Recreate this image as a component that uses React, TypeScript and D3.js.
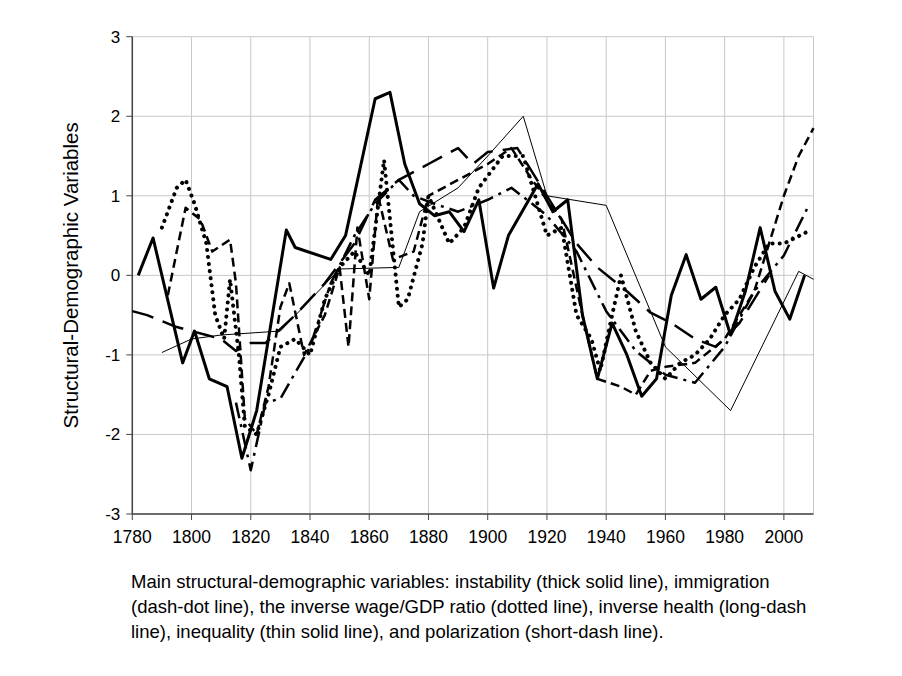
import * as d3 from 'd3';

type Pt = [number, number];

const instability: Pt[] = [[1782,0],[1787,0.47],[1797,-1.1],[1801,-0.7],[1806,-1.3],[1812,-1.4],[1817,-2.3],[1822,-1.7],[1832,0.57],[1835,0.35],[1847,0.2],[1852,0.5],[1862,2.22],[1867,2.3],[1872,1.4],[1877,0.9],[1882,0.75],[1887,0.8],[1892,0.55],[1897,0.95],[1902,-0.16],[1907,0.5],[1917,1.15],[1922,0.8],[1927,0.95],[1932,-0.5],[1937,-1.3],[1942,-0.6],[1947,-1.0],[1952,-1.52],[1957,-1.3],[1962,-0.25],[1967,0.26],[1972,-0.3],[1977,-0.15],[1982,-0.75],[1987,-0.2],[1992,0.6],[1997,-0.2],[2002,-0.55],[2007,0.0]];
const immigration: Pt[] = [[1815,-1.6],[1820,-2.45],[1825,-1.6],[1830,-1.55],[1840,-0.9],[1847,-0.1],[1855,0.5],[1862,0.9],[1870,1.2],[1875,1.0],[1882,0.9],[1890,0.8],[1900,0.95],[1908,1.1],[1915,0.9],[1920,0.75],[1930,0.3],[1940,-0.45],[1950,-0.95],[1960,-1.25],[1970,-1.35],[1980,-0.9],[1990,-0.2],[2000,0.25],[2008,0.85]];
const inverseWage: Pt[] = [[1790,0.6],[1795,1.1],[1798,1.2],[1801,0.9],[1805,0.4],[1808,-0.5],[1811,-0.8],[1813,-0.05],[1816,-1.0],[1818,-1.9],[1822,-2.0],[1826,-1.5],[1830,-0.9],[1835,-0.8],[1840,-1.0],[1845,-0.3],[1850,0.1],[1855,0.3],[1860,0.0],[1865,1.45],[1870,-0.4],[1873,-0.3],[1878,0.4],[1880,1.0],[1887,0.4],[1892,0.6],[1897,1.1],[1905,1.5],[1912,1.5],[1920,0.5],[1925,0.6],[1930,-0.5],[1935,-0.8],[1938,-1.2],[1942,-0.5],[1945,0.0],[1950,-0.7],[1955,-1.1],[1960,-1.3],[1965,-1.1],[1970,-1.0],[1975,-0.8],[1980,-0.5],[1985,-0.3],[1990,0.1],[1995,0.4],[2000,0.4],[2008,0.55]];
const inverseHealth: Pt[] = [[1780,-0.45],[1785,-0.5],[1795,-0.65],[1805,-0.75],[1810,-0.8],[1815,-0.95],[1820,-0.85],[1825,-0.85],[1835,-0.5],[1845,-0.1],[1855,0.4],[1862,0.95],[1870,1.2],[1880,1.4],[1890,1.6],[1895,1.4],[1900,1.55],[1910,1.6],[1920,1.0],[1930,0.4],[1937,0.1],[1947,-0.2],[1955,-0.47],[1962,-0.6],[1970,-0.8],[1977,-0.9],[1985,-0.6],[1995,0.0]];
const inequality: Pt[] = [[1790,-0.97],[1800,-0.8],[1810,-0.75],[1830,-0.7],[1850,0.08],[1870,0.1],[1877,0.8],[1890,1.1],[1900,1.5],[1912,2.0],[1920,1.0],[1940,0.88],[1960,-0.9],[1982,-1.7],[2005,0.05],[2010,-0.05]];
const polarization: Pt[] = [[1792,-0.25],[1798,0.85],[1803,0.7],[1807,0.3],[1813,0.45],[1815,-0.1],[1818,-1.8],[1822,-2.0],[1826,-1.4],[1830,-0.4],[1833,-0.1],[1838,-1.0],[1845,-0.5],[1850,0.1],[1853,-0.9],[1856,0.6],[1860,-0.3],[1863,1.0],[1868,0.2],[1875,0.3],[1880,1.0],[1890,1.2],[1900,1.4],[1908,1.6],[1915,1.2],[1925,0.7],[1932,-0.5],[1937,-1.3],[1945,-1.4],[1950,-1.5],[1955,-1.2],[1960,-1.15],[1970,-1.1],[1980,-0.8],[1990,-0.2],[2000,1.0],[2005,1.5],[2010,1.85]];

const xTicks = d3.range(1780, 2001, 20);
const yTicks = [-3, -2, -1, 0, 1, 2, 3];

const captionLines = [
  'Main structural-demographic variables: instability (thick solid line), immigration',
  '(dash-dot line), the inverse wage/GDP ratio (dotted line), inverse health (long-dash',
  'line), inequality (thin solid line), and polarization (short-dash line).',
];

const seriesList = [
  { data: inequality, width: 1, dash: 'none', cap: 'butt' },
  { data: inverseHealth, width: 2.5, dash: '22 10', cap: 'butt' },
  { data: immigration, width: 2.5, dash: '16 6 3 6', cap: 'butt' },
  { data: polarization, width: 2.5, dash: '9 5', cap: 'butt' },
  { data: inverseWage, width: 4, dash: '0.1 7', cap: 'round' },
  { data: instability, width: 3, dash: 'none', cap: 'butt' },
];

export default function App() {
  const x = d3.scaleLinear().domain([1780, 2010]).range([132.3, 813.5]);
  const y = d3.scaleLinear().domain([-3, 3]).range([514, 36.7]);
  const line = d3.line<Pt>().x(d => x(d[0])).y(d => y(d[1]));
  const font = 'Arial, "Liberation Sans", sans-serif';
  return (
    <svg width={902} height={676} style={{ position: 'absolute', left: 0, top: 0, background: '#fff' }} fontFamily={font}>
      {xTicks.concat([2010]).map(t => (
        <line key={'gx' + t} x1={x(t)} x2={x(t)} y1={y(3)} y2={y(-3)} stroke="#c8c8c8" strokeWidth={1} />
      ))}
      {yTicks.map(t => (
        <line key={'gy' + t} x1={x(1780)} x2={x(2010)} y1={y(t)} y2={y(t)} stroke="#c8c8c8" strokeWidth={1} />
      ))}
      <line x1={x(1780)} x2={x(1780)} y1={y(3)} y2={y(-3)} stroke="#444" strokeWidth={1.5} />
      <line x1={x(1780)} x2={x(2010)} y1={y(-3)} y2={y(-3)} stroke="#444" strokeWidth={1.5} />
      {yTicks.map(t => (
        <g key={'ty' + t}>
          <line x1={x(1780) - 6} x2={x(1780)} y1={y(t)} y2={y(t)} stroke="#444" />
          <text x={x(1780) - 12} y={y(t) + 6} fontSize={17} textAnchor="end">{t}</text>
        </g>
      ))}
      {xTicks.map(t => (
        <g key={'tx' + t}>
          <line x1={x(t)} x2={x(t)} y1={y(-3)} y2={y(-3) + 6} stroke="#444" />
          <text x={x(t)} y={y(-3) + 29} fontSize={17.5} textAnchor="middle">{t}</text>
        </g>
      ))}
      <text transform={`translate(78,${y(0)}) rotate(-90)`} fontSize={20.5} textAnchor="middle">Structural-Demographic Variables</text>
      {seriesList.map((s, i) => (
        <path key={i} d={line(s.data) || ''} fill="none" stroke="#000" strokeWidth={s.width}
          strokeDasharray={s.dash} strokeLinecap={s.cap as any} strokeLinejoin="round" />
      ))}
      {captionLines.map((c, i) => (
        <text key={i} x={131} y={588 + i * 25} fontSize={18.5}>{c}</text>
      ))}
    </svg>
  );
}
